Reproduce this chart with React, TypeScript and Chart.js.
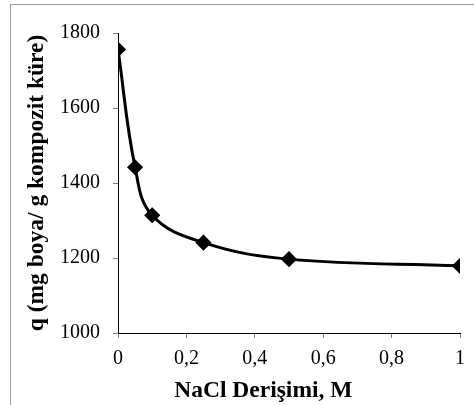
import React, { useEffect, useRef } from "react";
import { Chart, registerables } from "chart.js";

Chart.register(...registerables);

const xValues = [0, 0.05, 0.1, 0.25, 0.5, 1];
const qValues = [1756, 1442, 1314, 1241, 1197, 1179];
const xTickLabels = ["0", "0,2", "0,4", "0,6", "0,8", "1"];
const yTickLabels = ["1000", "1200", "1400", "1600", "1800"];
const xTitle = "NaCl Derişimi, M";
const yTitle = "q (mg boya/ g kompozit küre)";

const FONT = "'Liberation Serif', 'Times New Roman', serif";

export default function App() {
  const ref = useRef<HTMLCanvasElement | null>(null);

  useEffect(() => {
    if (!ref.current) return;
    const xTitlePlugin = {
      id: "xTitlePlugin",
      afterDraw(chart: any) {
        const { ctx, chartArea } = chart;
        ctx.save();
        ctx.font = `bold 23.5px ${FONT}`;
        ctx.fillStyle = "#000";
        ctx.textAlign = "center";
        ctx.textBaseline = "alphabetic";
        ctx.fillText(xTitle, chartArea.left + chartArea.width * 0.425, 397);
        ctx.restore();
      },
    };
    const chart = new Chart(ref.current, {
      type: "line",
      data: {
        datasets: [
          {
            data: xValues.map((x, i) => ({ x, y: qValues[i] })),
            borderColor: "#000",
            backgroundColor: "#000",
            borderWidth: 3,
            pointStyle: "rectRot",
            pointRadius: 6,
            pointBackgroundColor: "#000",
            pointBorderColor: "#000",
            tension: 0.4,
            fill: false,
          },
        ],
      },
      options: {
        animation: false,
        responsive: false,
        devicePixelRatio: 1,
        layout: { padding: { top: 33, right: 11, left: 0, bottom: 0 } },
        plugins: { legend: { display: false }, tooltip: { enabled: false } },
        scales: {
          x: {
            type: "linear",
            min: 0,
            max: 1,
            ticks: {
              stepSize: 0.2,
              color: "#000",
              font: { family: FONT, size: 20 },
              padding: 9,
              maxRotation: 0,
              callback: (_v: any, i: number) => xTickLabels[i],
            },
            grid: { drawOnChartArea: false, color: "#808080", tickLength: 5 },
            border: { color: "#000", width: 1 },
            afterFit: (s: any) => {
              s.height = 72;
            },
          },
          y: {
            min: 1000,
            max: 1800,
            ticks: {
              stepSize: 200,
              color: "#000",
              font: { family: FONT, size: 20 },
              padding: 13,
              callback: (_v: any, i: number) => yTickLabels[i],
            },
            grid: { drawOnChartArea: false, color: "#808080", tickLength: 5 },
            border: { color: "#000", width: 1 },
            title: {
              display: true,
              text: yTitle,
              color: "#000",
              font: { family: FONT, size: 23.5, weight: "bold" },
              padding: { top: 23, bottom: 0 },
            },
            afterFit: (s: any) => {
              s.width = 118;
            },
          },
        },
      },
      plugins: [xTitlePlugin],
    });
    return () => chart.destroy();
  }, []);

  return (
    <div
      style={{
        position: "fixed",
        left: 0,
        top: 0,
        width: 474,
        height: 405,
        overflow: "hidden",
        background: "#fff",
      }}
    >
      <div
        style={{
          position: "absolute",
          left: 10,
          top: 4,
          width: 500,
          height: 500,
          border: "1px solid #9a9a9a",
        }}
      />
      <canvas
        ref={ref}
        width={474}
        height={405}
        style={{ position: "absolute", left: 0, top: 0, width: 474, height: 405 }}
      />
    </div>
  );
}
